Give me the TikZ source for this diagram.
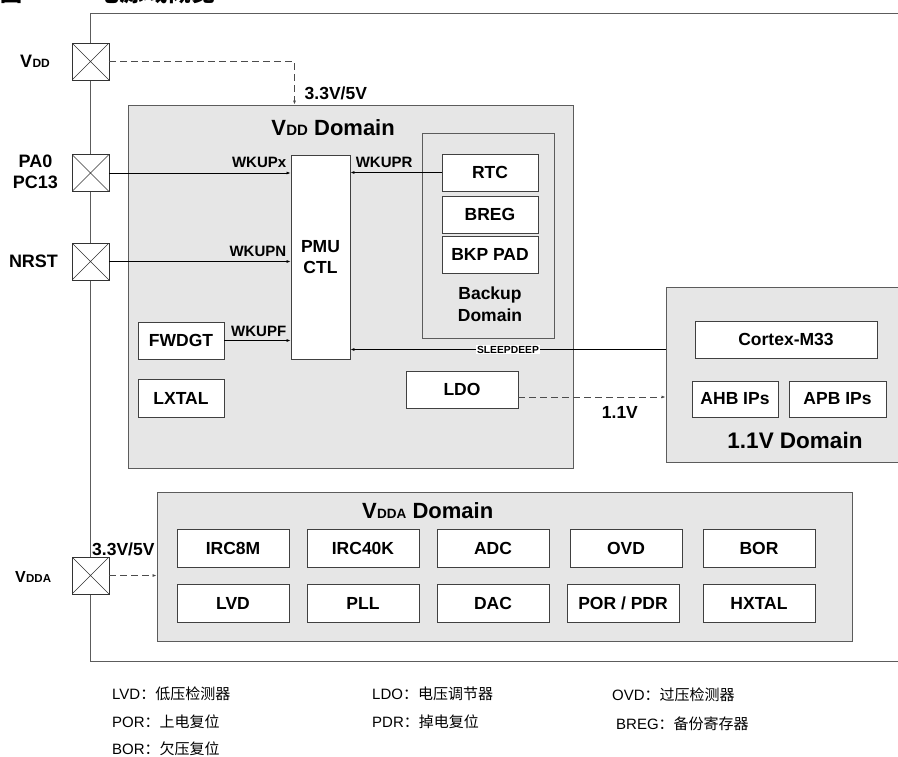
\documentclass[tikz,border=0pt]{standalone}
\usepackage{fontspec}
\setmainfont{Liberation Sans}
\newfontfamily\cjk{Noto Sans CJK SC}
\usetikzlibrary{arrows.meta}
\definecolor{domfill}{HTML}{E6E6E6}
\definecolor{domedge}{HTML}{5C5C5C}
\newcommand{\vsub}[2]{V\kern.3pt\raisebox{-.05ex}{\fontsize{#1}{#1}\selectfont #2}}

\begin{document}
\begin{tikzpicture}[x=1pt,y=-1pt,
  pwrdomain/.style={draw=domedge,fill=domfill,line width=1pt,inner sep=0},
  blk/.style={draw=black!75,fill=white,line width=.9pt,inner sep=0,minimum height=37,align=center,font=\fontsize{17.5}{21}\selectfont\bfseries},
  pad/.style={draw=black!80,fill=white,line width=.8pt,minimum size=37,inner sep=0,
    path picture={\draw[line width=.6pt] (path picture bounding box.south west) -- (path picture bounding box.north east)
      (path picture bounding box.north west) -- (path picture bounding box.south east);}},
  sig/.style={line width=.7pt,-{Latex[length=4pt,width=3pt]}},
  pwr/.style={sig,draw=black!70,dash pattern=on 7pt off 4pt},
  tag/.style={inner sep=0,font=\fontsize{15}{17}\selectfont\bfseries},
  tagl/.style={tag,anchor=south east,xshift=-4pt,yshift=5pt},
  tagr/.style={tag,anchor=south west,xshift=5pt,yshift=5pt},
  volt/.style={inner sep=0,font=\fontsize{17.5}{20}\selectfont\bfseries},
  title/.style={inner sep=0,font=\fontsize{22}{24}\selectfont\bfseries},
  padlbl/.style={inner sep=0,align=center,font=\fontsize{18}{21}\selectfont\bfseries},
  note/.style={inner sep=0,anchor=base west,font=\fontsize{15}{17}\selectfont}]
\useasboundingbox (0,0) rectangle (898,756);

\node[anchor=base west,inner sep=0,font=\cjk\bfseries\fontsize{22}{24}\selectfont] (fignum) at (0,1) {图};
\node[anchor=base west,inner sep=0,font=\cjk\bfseries\fontsize{24}{26}\selectfont] (figname) at (95,1) {电源域概览};

\draw[domedge,line width=1pt] (905,13) -- (90,13) -- (90,661) -- (905,661);

\node[pad] (pvdd) at (90.5,61.5) {};
\node[pad] (pwk) at (90.5,173) {};
\node[pad] (prst) at (90.5,261.5) {};
\node[pad] (pvdda) at (90.5,575.5) {};
\node[padlbl,anchor=base west] (lvdd) at (20,67) {\vsub{12}{DD}};
\node[padlbl] (lwk) at (35.5,172) {PA0\\PC13};
\node[padlbl,anchor=base] (lrst) at (33.5,267) {NRST};
\node[padlbl,anchor=base west,font=\fontsize{16}{18}\selectfont\bfseries] (lvdda) at (15,582) {\vsub{11.5}{DDA}};

\node[pwrdomain,minimum width=445,minimum height=363] (vdd) at (350.5,286.5) {};
\node[pwrdomain,minimum width=236,minimum height=175] (core) at (784,374.5) {};
\node[pwrdomain,minimum width=695,minimum height=149] (vdda) at (504.5,566.5) {};
\node[pwrdomain,minimum width=132,minimum height=205] (bkp) at (488,235.5) {};

\node[title,anchor=base east] (tvdd) at (395,135) {\vsub{15}{DD} Domain};
\node[title,anchor=base,font=\fontsize{22.5}{24}\selectfont\bfseries] (tcore) at (795,448) {1.1V Domain};
\node[title,anchor=base west] (tvdda) at (362,518) {\vsub{13.5}{DDA} Domain};
\node[inner sep=0,align=center,font=\fontsize{17.5}{22}\selectfont\bfseries] (tbkp) at (490,304) {Backup\\Domain};

\node[blk,minimum width=59,minimum height=204] (pmu) at (320.5,257) {PMU\\CTL};
\node[blk,minimum width=96] (rtc) at (490,172.5) {RTC};
\node[blk,minimum width=96] (breg) at (490,214.5) {BREG};
\node[blk,minimum width=96] (bkppad) at (490,254.5) {BKP PAD};
\node[blk,minimum width=86] (fwdgt) at (181,340.5) {FWDGT};
\node[blk,minimum width=86,minimum height=38] (lxtal) at (181,398) {LXTAL};
\node[blk,minimum width=112] (ldo) at (462,389.5) {LDO};

\node[blk,minimum width=182] (cortex) at (786,339.5) {Cortex-M33};
\node[blk,minimum width=86,minimum height=36] (ahb) at (735,399) {AHB IPs};
\node[blk,minimum width=97,minimum height=36] (apb) at (837.5,399) {APB IPs};

\node[blk,minimum width=112,minimum height=38] (irc8m) at (233,548) {IRC8M};
\node[blk,minimum width=112,minimum height=38] (irc40k) at (363,548) {IRC40K};
\node[blk,minimum width=112,minimum height=38] (adc) at (493,548) {ADC};
\node[blk,minimum width=112,minimum height=38] (ovd) at (626,548) {OVD};
\node[blk,minimum width=112,minimum height=38] (bor) at (759,548) {BOR};
\node[blk,minimum width=112,minimum height=38] (lvd) at (233,603.5) {LVD};
\node[blk,minimum width=112,minimum height=38] (pll) at (363,603.5) {PLL};
\node[blk,minimum width=112,minimum height=38] (dac) at (493,603.5) {DAC};
\node[blk,minimum width=112,minimum height=38] (porpdr) at (623,603.5) {POR / PDR};
\node[blk,minimum width=112,minimum height=38] (hxtal) at (759,603.5) {HXTAL};

\draw[pwr] (pvdd.east) -| ([xshift=167pt]vdd.north west);
\node[volt,anchor=base west] (v33a) at ([xshift=177pt,yshift=5pt]vdd.north west) {3.3V/5V};
\draw[pwr] (pvdda.east) -- (pvdda.east -| vdda.west);
\node[volt,anchor=base west] (v33b) at ([xshift=1.5pt,yshift=1pt]pvdda.north) {3.3V/5V};

\draw[sig] (pwk.east) -- (pwk.east -| pmu.west) node[pos=1,tagl] {WKUPx};
\draw[sig] (prst.east) -- (prst.east -| pmu.west) node[pos=1,tagl] {WKUPN};
\draw[sig] (fwdgt.east) -- (fwdgt.east -| pmu.west) node[pos=1,tagl,yshift=-1pt] {WKUPF};
\draw[sig] (rtc.west) -- (rtc.west -| pmu.east) node[pos=1,tagr] {WKUPR};

\coordinate (sdin) at ([yshift=-63pt]core.north west);
\draw[sig] (sdin) -- (sdin -| pmu.east) node[pos=.5,fill=white,inner sep=1pt,font=\fontsize{10.3}{12}\selectfont\bfseries] {SLEEPDEEP};

\coordinate (ldoout) at ([yshift=-7.5pt]ldo.east);
\draw[pwr] (ldoout) -- (ldoout -| core.west) node[pos=.69,volt,anchor=base,yshift=-21pt] {1.1V};

\node[note] (nlvd) at (112,699) {LVD{\cjk：低压检测器}};
\node[note] (npor) at (112,727) {POR{\cjk：上电复位}};
\node[note] (nbor) at (112,754) {BOR{\cjk：欠压复位}};
\node[note] (nldo) at (372,699) {LDO{\cjk：电压调节器}};
\node[note] (npdr) at (372,727) {PDR{\cjk：掉电复位}};
\node[note] (novd) at (612,700) {OVD{\cjk：过压检测器}};
\node[note] (nbreg) at (616,729) {BREG{\cjk：备份寄存器}};
\end{tikzpicture}
\end{document}
